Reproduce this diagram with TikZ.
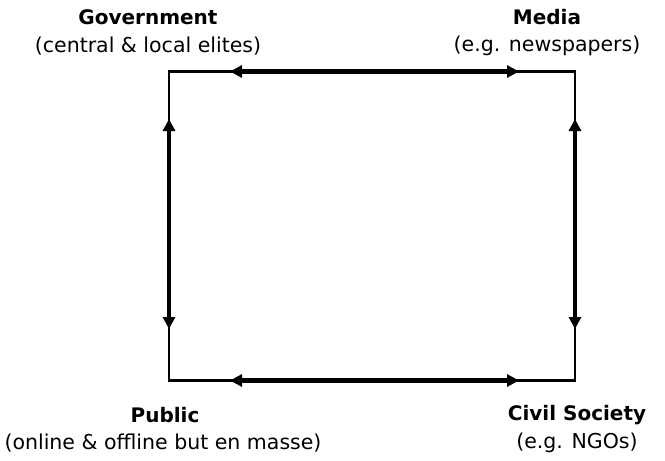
\documentclass[tikz,border=0pt]{standalone}
\usepackage{fontspec}
\setmainfont{DejaVu Sans}
\usetikzlibrary{arrows.meta}
\begin{document}
\begin{tikzpicture}[x=1pt,y=-1pt,
  frame/.style={line width=2.1pt, line join=miter},
  flow/.style={line width=4.6pt, {Triangle[length=12pt,width=12pt]}-{Triangle[length=12pt,width=12pt]}},
  title/.style={font=\fontsize{20}{24}\selectfont\bfseries, inner sep=0pt, anchor=center},
  sub/.style={font=\fontsize{20.5}{24}\selectfont, inner sep=0pt, anchor=center}]
\useasboundingbox (0,0) rectangle (665,461);
\coordinate (tl) at (169,71.5);
\coordinate (tr) at (575,71.5);
\coordinate (bl) at (169,380.5);
\coordinate (br) at (575,380.5);
\draw[frame] (tl) -- (tr) -- (br) -- (bl) -- cycle;
\coordinate (t1) at (230,71.5);
\coordinate (t2) at (519,71.5);
\coordinate (b1) at (230,380.5);
\coordinate (b2) at (519,380.5);
\coordinate (l1) at (169,119);
\coordinate (l2) at (169,329);
\coordinate (r1) at (575,119);
\coordinate (r2) at (575,329);
\draw[flow] (t1) -- (t2);
\draw[flow] (b1) -- (b2);
\draw[flow] (l1) -- (l2);
\draw[flow] (r1) -- (r2);
\node[title] (gov) at (148,17) {Government};
\node[sub] (govs) at (148,46) {(central \& local elites)};
\node[title] (med) at (547,17) {Media};
\node[sub] (meds) at (547,46) {(e.g. newspapers)};
\node[title] (pub) at (165,415) {Public};
\node[sub] (pubs) at (163,443) {(online \& offline but en masse)};
\node[title] (civ) at (577,415) {Civil Society};
\node[sub] (civs) at (577,443) {(e.g. NGOs)};
\end{tikzpicture}
\end{document}
